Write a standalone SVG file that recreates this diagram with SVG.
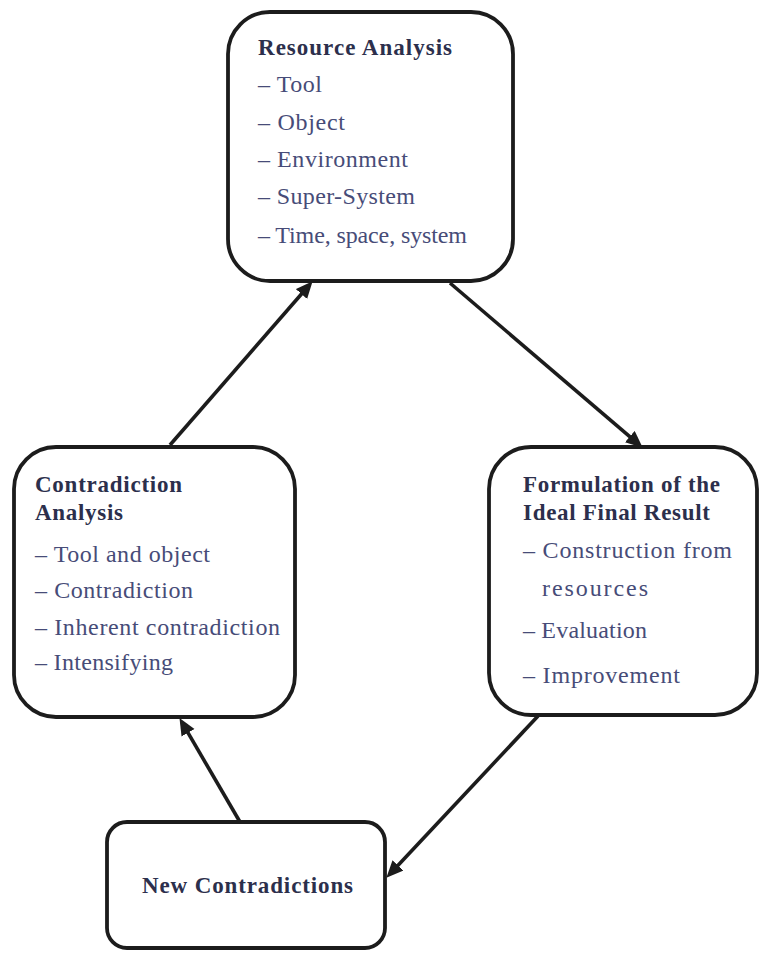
<svg xmlns="http://www.w3.org/2000/svg" width="763" height="953" viewBox="0 0 763 953">
<style>
.box{fill:#ffffff;stroke:#1c1c1c;stroke-width:3.8}
.conn{stroke:#1c1c1c;stroke-width:3.6;fill:none;marker-end:url(#ah)}
.t{font-family:"Liberation Serif","Times New Roman",serif;font-weight:bold;font-size:23px;fill:#2c2f4c}
.i{font-family:"Liberation Serif","Times New Roman",serif;font-size:24px;fill:#474c78}
</style>
<defs>
<marker id="ah" markerUnits="userSpaceOnUse" markerWidth="18" markerHeight="16" refX="8" refY="7.5" orient="auto">
<path d="M0,0 L17,7.5 L0,15 Z" fill="#1c1c1c"/>
</marker>
</defs>
<rect width="763" height="953" fill="#ffffff"/>
<g id="connectors">
<line class="conn" x1="170" y1="445" x2="306.7" y2="288.0"/>
<line class="conn" x1="450" y1="283" x2="635.9" y2="441.8"/>
<line class="conn" x1="538" y1="716" x2="392.5" y2="871.2"/>
<line class="conn" x1="240" y1="822" x2="184.0" y2="725.9"/>
</g>
<g id="resource-analysis">
<rect class="box" x="228" y="12" width="285" height="269" rx="42" ry="42"/>
<text class="t" x="258" y="55" textLength="194" lengthAdjust="spacing">Resource Analysis</text>
<text class="i" x="258" y="92" textLength="64" lengthAdjust="spacing">– Tool</text>
<text class="i" x="258" y="130" textLength="87" lengthAdjust="spacing">– Object</text>
<text class="i" x="258" y="167" textLength="150" lengthAdjust="spacing">– Environment</text>
<text class="i" x="258" y="204" textLength="157" lengthAdjust="spacing">– Super-System</text>
<text class="i" x="258" y="243" textLength="209" lengthAdjust="spacing">– Time, space, system</text>
</g>
<g id="contradiction-analysis">
<rect class="box" x="14" y="447" width="281" height="270" rx="42" ry="42"/>
<text class="t" x="35" y="492" textLength="147" lengthAdjust="spacing">Contradiction</text>
<text class="t" x="35" y="520" textLength="88" lengthAdjust="spacing">Analysis</text>
<text class="i" x="35" y="562" textLength="175" lengthAdjust="spacing">– Tool and object</text>
<text class="i" x="35" y="598" textLength="158" lengthAdjust="spacing">– Contradiction</text>
<text class="i" x="35" y="635" textLength="245" lengthAdjust="spacing">– Inherent contradiction</text>
<text class="i" x="35" y="670" textLength="138" lengthAdjust="spacing">– Intensifying</text>
</g>
<g id="ideal-final-result">
<rect class="box" x="489" y="447" width="268" height="268" rx="42" ry="42"/>
<text class="t" x="523" y="492" textLength="197" lengthAdjust="spacing">Formulation of the</text>
<text class="t" x="523" y="520" textLength="187" lengthAdjust="spacing">Ideal Final Result</text>
<text class="i" x="523" y="558" textLength="209" lengthAdjust="spacing">– Construction from</text>
<text class="i" x="542" y="596" textLength="106" lengthAdjust="spacing">resources</text>
<text class="i" x="523" y="638" textLength="124" lengthAdjust="spacing">– Evaluation</text>
<text class="i" x="523" y="683" textLength="157" lengthAdjust="spacing">– Improvement</text>
</g>
<g id="new-contradictions">
<rect class="box" x="107" y="822" width="278" height="126" rx="20" ry="20"/>
<text class="t" x="142" y="893" textLength="211" lengthAdjust="spacing">New Contradictions</text>
</g>
</svg>
